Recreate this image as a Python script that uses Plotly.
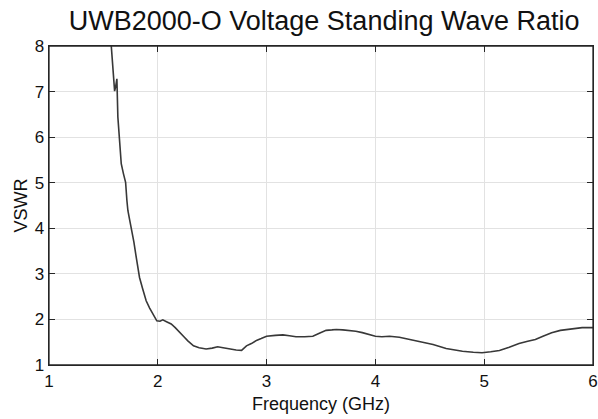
import plotly.graph_objects as go

freq_ghz = [1.560, 1.572, 1.590, 1.603, 1.612, 1.624, 1.633, 1.648, 1.664, 1.684, 1.704,
            1.716, 1.725, 1.740, 1.756, 1.780, 1.802, 1.832, 1.860, 1.893, 1.925, 1.954,
            1.975, 1.991, 2.020, 2.046, 2.080, 2.123, 2.160, 2.199, 2.240, 2.276, 2.328,
            2.380, 2.444, 2.500, 2.550, 2.600, 2.658, 2.720, 2.770, 2.815, 2.860, 2.907,
            2.950, 3.000, 3.080, 3.150, 3.210, 3.270, 3.350, 3.425, 3.490, 3.547, 3.600,
            3.640, 3.700, 3.760, 3.820, 3.880, 3.940, 4.000, 4.060, 4.130, 4.220, 4.310,
            4.430, 4.530, 4.650, 4.720, 4.800, 4.900, 4.980, 5.060, 5.140, 5.230, 5.320,
            5.400, 5.470, 5.540, 5.620, 5.700, 5.810, 5.900, 6.000]
vswr = [8.40, 8.00, 7.50, 7.01, 7.10, 7.28, 6.44, 5.90, 5.42, 5.20, 5.01,
        4.61, 4.39, 4.20, 4.02, 3.70, 3.36, 2.92, 2.68, 2.41, 2.25, 2.12,
        2.02, 1.97, 1.96, 1.99, 1.95, 1.90, 1.82, 1.71, 1.62, 1.53, 1.42,
        1.38, 1.35, 1.37, 1.40, 1.38, 1.35, 1.33, 1.32, 1.42, 1.47, 1.54,
        1.58, 1.63, 1.65, 1.66, 1.64, 1.62, 1.62, 1.63, 1.70, 1.76, 1.77,
        1.78, 1.77, 1.76, 1.74, 1.71, 1.67, 1.63, 1.62, 1.63, 1.61, 1.56,
        1.51, 1.45, 1.36, 1.33, 1.30, 1.28, 1.27, 1.29, 1.32, 1.39, 1.47,
        1.52, 1.56, 1.63, 1.71, 1.76, 1.80, 1.82, 1.82]

x_ticks = [1, 2, 3, 4, 5, 6]
y_ticks = [1, 2, 3, 4, 5, 6, 7, 8]

FONT = "Liberation Sans, Arial, Helvetica"

fig = go.Figure()
fig.add_trace(go.Scatter(x=freq_ghz, y=vswr, mode="lines",
                         line=dict(color="#383838", width=1.6),
                         showlegend=False, cliponaxis=True, hoverinfo="skip"))

axis_common = dict(showline=True, linecolor="#262626", linewidth=1.3, mirror="ticks",
                   ticks="inside", ticklen=6, tickwidth=1.2, tickcolor="#262626",
                   showgrid=True, gridcolor="#e2e2e2", gridwidth=1, zeroline=False,
                   automargin=False,
                   tickfont=dict(family=FONT, size=17, color="#111"))

fig.update_xaxes(range=[1, 6], tickvals=x_ticks, ticktext=[str(v) for v in x_ticks],
                 title=dict(text="Frequency (GHz)", standoff=7,
                            font=dict(family=FONT, size=18, color="#111")),
                 **axis_common)
fig.update_yaxes(range=[1, 8], tickvals=y_ticks, ticktext=[str(v) for v in y_ticks],
                 title=dict(text="VSWR", standoff=2,
                            font=dict(family=FONT, size=18, color="#111")),
                 **axis_common)

# box frame around the plotting area
fig.add_shape(type="rect", xref="paper", yref="paper", x0=0, y0=0, x1=1, y1=1,
              line=dict(color="#262626", width=1.3), fillcolor="rgba(0,0,0,0)", layer="above")

fig.update_layout(
    width=598, height=419,
    margin=dict(l=49, r=5, t=46, b=54),
    paper_bgcolor="white", plot_bgcolor="white",
    title=dict(text="UWB2000-O Voltage Standing Wave Ratio", x=0.542, xanchor="center",
               y=0.952, yanchor="middle",
               font=dict(family=FONT, size=27, color="#111")),
)

fig.write_html("out.html",
               config={"displayModeBar": False, "staticPlot": True},
               post_script="document.body.style.margin='0';document.body.style.overflow='hidden';")
